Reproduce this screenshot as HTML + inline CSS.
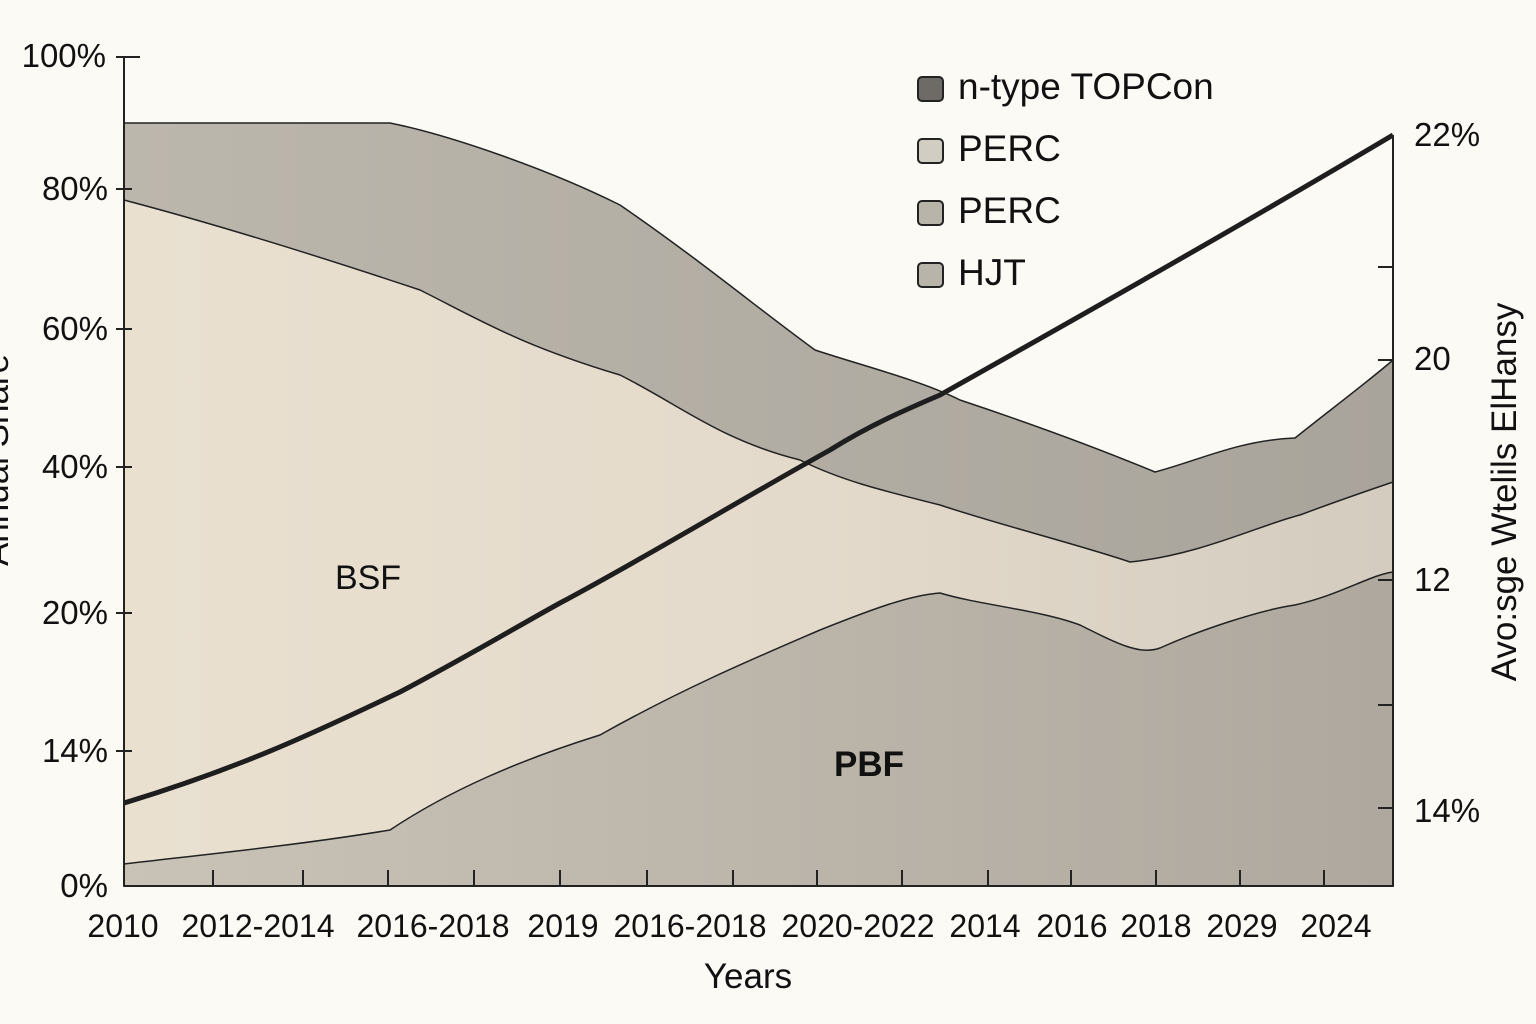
<!DOCTYPE html>
<html><head><meta charset="utf-8"><style>
html,body{margin:0;padding:0;background:#fcfaf5;}
svg{display:block;font-family:"Liberation Sans",sans-serif;}
</style></head><body>
<svg width="1536" height="1024" viewBox="0 0 1536 1024" xmlns="http://www.w3.org/2000/svg">
<defs>
<linearGradient id="g1" x1="0" x2="1" y1="0" y2="0"><stop offset="0" stop-color="#bcb7ad"/><stop offset="1" stop-color="#a9a49b"/></linearGradient>
<linearGradient id="g2" x1="0" x2="1" y1="0" y2="0"><stop offset="0" stop-color="#c9c3b7"/><stop offset="1" stop-color="#aea89e"/></linearGradient>
<linearGradient id="g3" x1="0" x2="1" y1="0" y2="0"><stop offset="0" stop-color="#e9e0d0"/><stop offset="0.55" stop-color="#e4dacb"/><stop offset="1" stop-color="#d3ccbf"/></linearGradient>
</defs>
<rect width="1536" height="1024" fill="#fcfaf5"/>
<path d="M124,123 L390,123 C450,135 550,170 620,205 C700,260 760,310 815,350 C860,365 920,380 960,400 C1020,420 1090,445 1155,472 C1200,460 1240,440 1295,438 C1330,410 1370,380 1393,360 L1393,886 L124,886 Z" fill="url(#g1)" stroke="#222" stroke-width="1.5"/>
<path d="M124,200 C200,220 300,250 420,290 C480,320 520,345 620,375 C680,405 720,440 800,460 C840,480 880,490 940,505 C1000,525 1080,545 1130,562 C1200,555 1260,525 1300,515 C1340,500 1393,482 1393,482 L1393,886 L124,886 Z" fill="url(#g3)" stroke="#222" stroke-width="1.5"/>
<path d="M124,864 C200,855 300,845 390,830 C450,790 520,760 600,735 C680,690 750,660 820,630 C870,610 910,595 940,593 C980,605 1040,610 1080,625 C1120,645 1140,655 1160,648 C1200,630 1260,610 1295,605 C1340,595 1370,575 1393,572 L1393,886 L124,886 Z" fill="url(#g2)" stroke="#222" stroke-width="1.5"/>
<path d="M124,803 C250,765 330,725 400,692 C470,655 520,625 560,603 C650,555 740,500 830,450 C870,425 905,410 940,395 C1100,305 1250,220 1393,135" fill="none" stroke="#1e1e1e" stroke-width="5"/>
<g stroke="#222" stroke-width="2" fill="none">
<line x1="124" y1="57" x2="124" y2="886"/>
<line x1="124" y1="886" x2="1393" y2="886"/>
<line x1="1393" y1="135" x2="1393" y2="886"/>
<line x1="116" y1="57" x2="140" y2="57"/>
<line x1="116" y1="189" x2="132" y2="189"/>
<line x1="116" y1="329" x2="132" y2="329"/>
<line x1="116" y1="467" x2="132" y2="467"/>
<line x1="116" y1="613" x2="132" y2="613"/>
<line x1="116" y1="751" x2="132" y2="751"/>
<line x1="1378" y1="267" x2="1393" y2="267"/>
<line x1="1378" y1="360" x2="1393" y2="360"/>
<line x1="1378" y1="580" x2="1393" y2="580"/>
<line x1="1378" y1="705" x2="1393" y2="705"/>
<line x1="1378" y1="808" x2="1393" y2="808"/>
<g>
<line x1="213" y1="870" x2="213" y2="886"/><line x1="303" y1="870" x2="303" y2="886"/><line x1="388" y1="870" x2="388" y2="886"/><line x1="474" y1="870" x2="474" y2="886"/><line x1="560" y1="870" x2="560" y2="886"/><line x1="647" y1="870" x2="647" y2="886"/><line x1="733" y1="870" x2="733" y2="886"/><line x1="817" y1="870" x2="817" y2="886"/><line x1="902" y1="870" x2="902" y2="886"/><line x1="988" y1="870" x2="988" y2="886"/><line x1="1071" y1="870" x2="1071" y2="886"/><line x1="1156" y1="870" x2="1156" y2="886"/><line x1="1240" y1="870" x2="1240" y2="886"/><line x1="1324" y1="870" x2="1324" y2="886"/>
</g></g>
<g font-size="33" fill="#111" text-anchor="end">
<text x="106" y="67">100%</text><text x="108" y="200">80%</text><text x="108" y="340">60%</text><text x="108" y="478">40%</text><text x="108" y="624">20%</text><text x="108" y="762">14%</text><text x="108" y="897">0%</text>
</g>
<g font-size="33" fill="#111">
<text x="1414" y="146">22%</text><text x="1414" y="370">20</text><text x="1414" y="591">12</text><text x="1414" y="822">14%</text>
</g>
<text transform="translate(1516,492) rotate(-90)" font-size="35" fill="#111" text-anchor="middle">Avo:sge Wtelils ElHansy</text>
<text transform="translate(8,460) rotate(-90)" font-size="35" fill="#111" text-anchor="middle">Annual Share</text>
<g font-size="32" fill="#111" text-anchor="middle">
<text x="123" y="937">2010</text><text x="258" y="937">2012-2014</text><text x="433" y="937">2016-2018</text><text x="563" y="937">2019</text><text x="690" y="937">2016-2018</text><text x="858" y="937">2020-2022</text><text x="985" y="937">2014</text><text x="1072" y="937">2016</text><text x="1156" y="937">2018</text><text x="1242" y="937">2029</text><text x="1336" y="937">2024</text>
</g>
<text x="748" y="988" font-size="35" fill="#111" text-anchor="middle">Years</text>
<text x="368" y="589" font-size="34" fill="#111" text-anchor="middle">BSF</text>
<text x="869" y="776" font-size="35" font-weight="bold" fill="#111" text-anchor="middle">PBF</text>
<g stroke="#222" stroke-width="2">
<rect x="918" y="77" width="25" height="24" rx="4" fill="#6e6b66"/>
<rect x="918" y="139" width="25" height="24" rx="4" fill="#d2cdc2"/>
<rect x="918" y="201" width="25" height="24" rx="4" fill="#b9b4aa"/>
<rect x="918" y="263" width="25" height="24" rx="4" fill="#b9b4aa"/>
</g>
<g font-size="37" fill="#111">
<text x="958" y="99">n-type TOPCon</text><text x="958" y="161">PERC</text><text x="958" y="223">PERC</text><text x="958" y="285">HJT</text>
</g>
</svg>
</body></html>
